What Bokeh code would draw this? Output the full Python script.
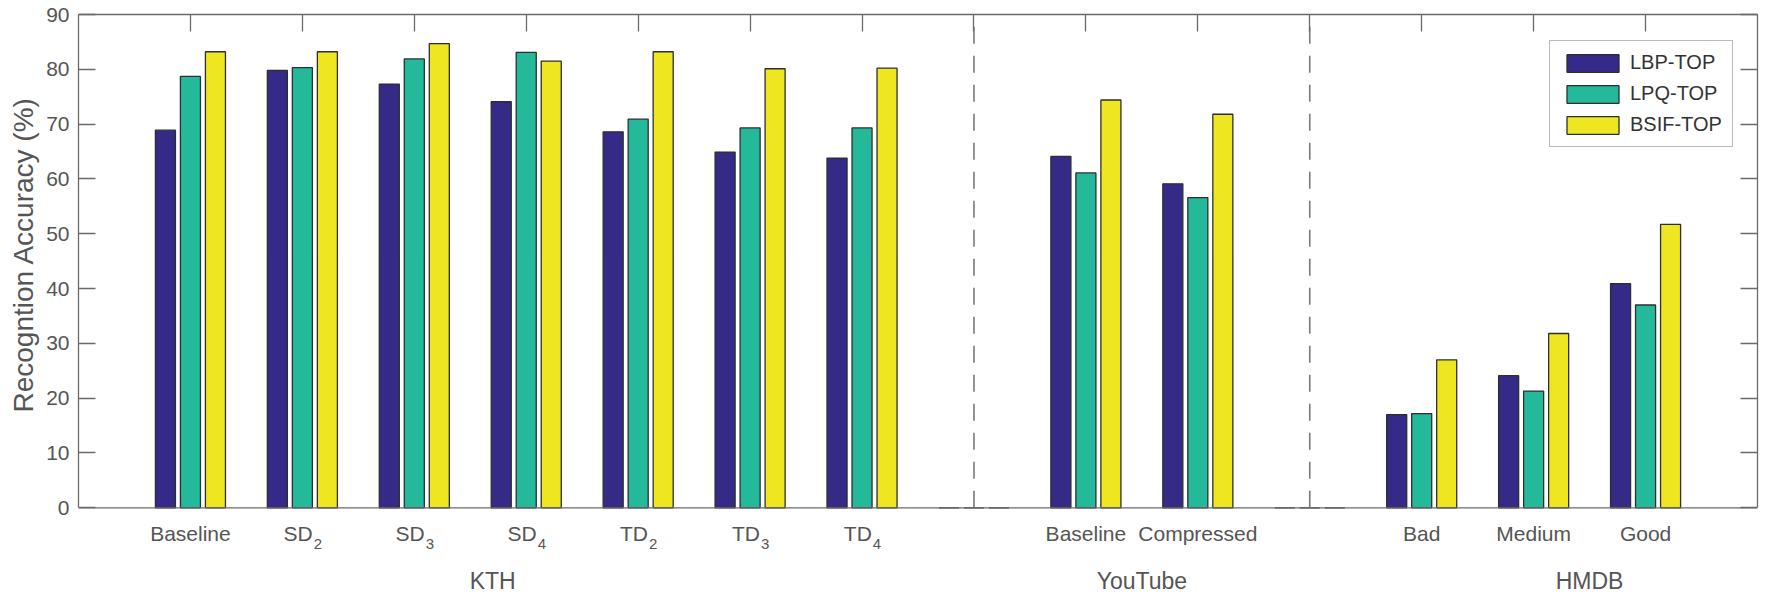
from bokeh.plotting import figure
from bokeh.models import Range1d, LinearAxis, FixedTicker, Span, Title, ColumnDataSource
from bokeh.core.properties import value
from bokeh.transform import dodge
from bokeh.embed import file_html
from bokeh.resources import INLINE

# Category tick texts (subscripts kept apart so they can be lowered)
tick_base = ["Baseline", "SD", "SD", "SD", "TD", "TD", "TD", "",
             "Baseline", "Compressed", "", "Bad", "Medium", "Good"]
tick_sub = ["", "2", "3", "4", "2", "3", "4", "", "", "", "", "", "", ""]

# Recognition accuracy (%) per descriptor; 0 entries are the empty separator slots
lbp_top = [68.9, 79.8, 77.3, 74.1, 68.6, 64.9, 63.8, 0, 64.1, 59.1, 0, 17.0, 24.1, 40.9]
lpq_top = [78.7, 80.3, 81.9, 83.1, 70.9, 69.3, 69.3, 0, 61.1, 56.6, 0, 17.2, 21.3, 37.0]
bsif_top = [83.2, 83.2, 84.7, 81.5, 83.2, 80.1, 80.2, 0, 74.4, 71.8, 0, 27.0, 31.8, 51.7]
series_names = ["LBP-TOP", "LPQ-TOP", "BSIF-TOP"]

# Dataset group captions and where they sit on the category axis
group_names = ["KTH", "YouTube", "HMDB"]
group_centers = [3.7, 9.5, 13.5]
separator_positions = [8, 11]
y_ticks = [0, 10, 20, 30, 40, 50, 60, 70, 80, 90]

colors = ["#352A87", "#24B99B", "#EDE621"]
FONT = "Liberation Sans"
GREY_TEXT = "#555555"
AXIS_GREY = "#6a6a6a"

# layout: the frame runs down to the canvas bottom so the category captions
# can be drawn under the zero line; the value axis itself is bounded to 0..90
W, H = 1766, 595
LEFT, RIGHT, TOP = 78, 9, 14
Y_LO, Y_HI = -16.0, 90
px_x = (W - LEFT - RIGHT) / 15.0
px_y = (H - TOP) / (Y_HI - Y_LO)


def below_zero(px):
    """data-space y for a point px pixels under the zero line"""
    return -px / px_y


xs = list(range(1, len(tick_base) + 1))
src = ColumnDataSource(dict(x=xs, lbp=lbp_top, lpq=lpq_top, bsif=bsif_top))

p = figure(width=W, height=H, output_backend="svg", toolbar_location=None,
           x_range=Range1d(0, 15), y_range=Range1d(Y_LO, Y_HI), x_axis_location=None,
           min_border_left=LEFT, min_border_right=RIGHT, min_border_top=TOP, min_border_bottom=0)
p.background_fill_color = "white"
p.border_fill_color = "white"
p.outline_line_color = None
p.grid.visible = False

bar_w = 0.179
offsets = [-0.2234, 0.0, 0.2234]
for col, off, c, name in zip(["lbp", "lpq", "bsif"], offsets, colors, series_names):
    p.vbar(x=dodge("x", off, range=p.x_range), top=col, bottom=0, width=bar_w, source=src,
           fill_color=c, line_color="#2e2e2e", line_width=1.3, legend_label=name)

# zero line
p.add_layout(Span(location=0, dimension="width", line_color=AXIS_GREY, line_width=1.3))

# dashed separators between datasets
p.segment(x0=separator_positions, x1=separator_positions,
          y0=[y_ticks[0]] * len(separator_positions), y1=[y_ticks[-1]] * len(separator_positions),
          line_color="#7a7a7a", line_width=1.6, line_dash="17 12")


def style_axis(ax, show_labels):
    ax.axis_line_color = AXIS_GREY
    ax.axis_line_width = 1.3
    ax.major_tick_line_color = AXIS_GREY
    ax.major_tick_line_width = 1.3
    ax.major_tick_in = 17
    ax.major_tick_out = 0
    ax.minor_tick_in = 0
    ax.minor_tick_out = 0
    ax.major_label_text_font = FONT
    ax.major_label_text_color = GREY_TEXT
    ax.major_label_text_font_size = "21px"
    ax.major_label_standoff = 9
    if not show_labels:
        ax.major_label_text_font_size = "0px"
        ax.major_label_standoff = 0


# left value axis
yax = p.yaxis[0]
yax.ticker = FixedTicker(ticks=y_ticks)
yax.bounds = (y_ticks[0], y_ticks[-1])
style_axis(yax, True)

p.add_layout(Title(text="Recogntion Accuracy (%)", align="left", offset=183,
                   text_font=FONT, text_font_style="normal", text_font_size="28px",
                   text_color=GREY_TEXT, standoff=10), "left")

# box: right and top axes with inward ticks
rax = LinearAxis(ticker=FixedTicker(ticks=y_ticks), bounds=(y_ticks[0], y_ticks[-1]))
style_axis(rax, False)
rax.major_label_overrides = {t: "" for t in y_ticks}
p.add_layout(rax, "right")

tax = LinearAxis(ticker=FixedTicker(ticks=xs))
style_axis(tax, False)
tax.major_label_overrides = {t: "" for t in xs}
p.add_layout(tax, "above")

# category captions under the zero line, with lowered subscripts
adv = {"S": 0.667, "D": 0.722, "T": 0.611}
MAIN_PX, SUB_PX = 21, 15
plain_x, plain_t = [], []
stem_x, stem_t, sub_x, sub_t = [], [], [], []
for xv, base, sub in zip(xs, tick_base, tick_sub):
    if not base:
        continue
    if sub:
        w_main = sum(adv[ch] for ch in base) * MAIN_PX
        w_sub = 0.556 * SUB_PX
        shift = (w_main - w_sub) / 2
        stem_x.append(xv + shift / px_x)
        stem_t.append(base)
        sub_x.append(xv + (shift + 1) / px_x)
        sub_t.append(sub)
    else:
        plain_x.append(xv)
        plain_t.append(base)

common = dict(text_font=value(FONT), text_color=GREY_TEXT, text_baseline="alphabetic")
p.text(x=plain_x, y=[below_zero(25.7)] * len(plain_x), text=plain_t,
       text_align="center", text_font_size=value(f"{MAIN_PX}px"), **common)
p.text(x=stem_x, y=[below_zero(25.7)] * len(stem_x), text=stem_t,
       text_align="right", text_font_size=value(f"{MAIN_PX}px"), **common)
p.text(x=sub_x, y=[below_zero(35.7)] * len(sub_x), text=sub_t,
       text_align="left", text_font_size=value(f"{SUB_PX}px"), **common)
p.text(x=group_centers, y=[below_zero(73.5)] * len(group_centers), text=group_names,
       text_align="center", text_font_size=value("23px"), **common)

leg = p.legend[0]
leg.location = (1471, 448)
leg.margin = 0
leg.padding = 10
leg.spacing = 8
leg.glyph_width = 65
leg.glyph_height = 22
leg.label_height = 22
leg.label_standoff = 5
leg.label_text_font = FONT
leg.label_text_font_size = "20px"
leg.label_text_color = "#333333"
leg.border_line_color = "#777777"
leg.border_line_width = 1.3
leg.background_fill_color = "white"
leg.background_fill_alpha = 1.0

open("out.html", "w").write(file_html(p, INLINE))
